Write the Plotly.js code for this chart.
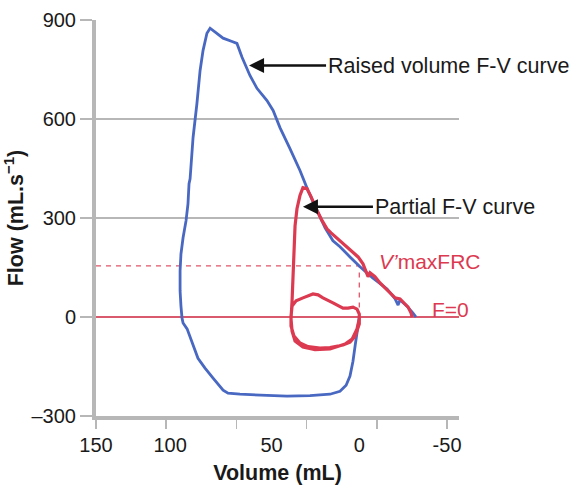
<!DOCTYPE html>
<html><head><meta charset="utf-8">
<script src="https://cdn.plot.ly/plotly-3.0.1.min.js"></script>
<style>html,body{margin:0;padding:0;background:#fff}#chart{width:569px;height:485px}</style>
</head><body><div id="chart"></div>
<script>
// Raised volume F-V curve (blue)
const raisedVolume = [0, 1.3, 2.4, 3.6, 5.3, 7.5, 11, 16.7, 28.1, 41.2, 56.6, 68, 74.8, 77.6, 83.3, 87.9, 91.9, 94.7, 98.1, 100.4, 101,
  101.6, 102.1, 102.1, 101.6, 100.4, 98.7, 97.6, 97.0, 96.4, 94.7, 92.5, 90.7, 89.0, 86.8, 85.0, 82.2, 77.6, 72.5, 69.7, 66.8, 62.3, 58.3,
  52.6, 49.1, 45.2, 39.5, 33.8, 29.2, 24.1, 19.5, 15.0, 11.0, 5.3, -0.4, -7.8, -15.8, -20.4, -22.1, -23.2, -27.2, -30.6, -32.3];
const raisedFlow = [0, -42, -88, -134, -179, -207, -225, -234, -238, -240, -237, -234, -231, -222, -185, -155, -125, -82, -36, -18, -3,
  33, 79, 140, 191, 240, 292, 343, 404, 419, 544, 647, 747, 808, 860, 875, 863, 845, 835, 829, 787, 732, 693,
  656, 626, 574, 510, 444, 383, 322, 270, 231, 213, 182, 152, 118, 85, 55, 36, 52, 33, 12, 0];

// Tidal breaths and partial F-V curve (red)
const partialVolume = [0, 0, 2.4, 5.3, 9.3, 16.7, 22.4, 29.2, 33.8, 37.2, 38.9, 38.9, 38.3,
  36.0, 32.1, 26.4, 23.5, 20.7, 15.0, 9.3, 6.4, 3.6, 1.3, 0, 0,
  1.3, 4.1, 8.1, 16.7, 25.2, 32.1, 36.6, 38.3, 38.9, 38.3, 37.7, 37.2, 36.6, 35.5, 33.8, 32.1,
  29.8, 27.5, 24.6, 21.2, 18.4, 16.1, 11.0, 5.3, 0.7, -2.1, -3.8, -5.0, -6.1, -8.9, -11.8, -16.4,
  -20.4, -23.2, -25.5, -27.8, -29.5, -30.1];
const partialFlow = [0, -21, -58, -76, -85, -93, -94, -90, -79, -58, -27, 3, 33,
  49, 58, 70, 67, 58, 43, 27, 27, 30, 24, 9, -6,
  -36, -67, -82, -97, -99, -91, -73, -43, -6, 49, 140, 216, 276, 328, 368, 392,
  389, 365, 328, 292, 267, 255, 231, 204, 182, 161, 134, 122, 134, 122, 103, 79,
  58, 55, 43, 30, 12, 0];

const xRange = [150, -56.8];
const xTickMarks = [150, 110, 70, 30, -10, -50];
const xLabelValues = [150, 107.8, 50, 0, -50];
const xLabelText = ["150", "100", "50", "0", "-50"];
const yTickValues = [-300, 0, 300, 600, 900];
const yTickText = ["\u2013300", "0", "300", "600", "900"];
const zeroFlow = 0;
const vmaxFRCFlow = 155;
const vmaxFRCVolume = 0;

const gray = '#b7b7b7';
const blue = '#4868c2';
const red = '#dc3a50';
const font = 'Liberation Sans, Arial, Helvetica, sans-serif';

const traces = [
  {x: xRange, y: [zeroFlow, zeroFlow], mode: 'lines', line: {color: '#d85a6c', width: 2}, hoverinfo: 'skip', showlegend: false, cliponaxis: false},
  {x: [150, vmaxFRCVolume, vmaxFRCVolume], y: [vmaxFRCFlow, vmaxFRCFlow, zeroFlow], mode: 'lines', line: {color: '#e0566a', width: 1.3, dash: '5px,5px'}, hoverinfo: 'skip', showlegend: false},
  {x: raisedVolume, y: raisedFlow, mode: 'lines', line: {color: blue, width: 2.8}, hoverinfo: 'skip', showlegend: false},
  {x: partialVolume, y: partialFlow, mode: 'lines', line: {color: red, width: 3.2}, hoverinfo: 'skip', showlegend: false},
  {x: xRange, y: [null, null], xaxis: 'x2', mode: 'lines', hoverinfo: 'skip', showlegend: false}
];

const layout = {
  width: 569, height: 485,
  margin: {l: 96, r: 110, t: 20, b: 69},
  paper_bgcolor: '#fff', plot_bgcolor: '#fff',
  font: {family: font, size: 20, color: '#1a1a1a'},
  showlegend: false,
  xaxis: {
    range: xRange, tickmode: 'array', tickvals: xLabelValues, ticktext: xLabelText,
    ticks: 'outside', ticklen: 8, tickcolor: 'rgba(0,0,0,0)',
    showline: true, linewidth: 4, linecolor: gray, showgrid: false, zeroline: false,
    tickfont: {size: 20, color: '#1a1a1a'},
    title: {text: '<b>Volume (mL)</b>', font: {size: 21.5, color: '#1a1a1a'}, standoff: 15}
  },
  xaxis2: {
    overlaying: 'x', anchor: 'y', side: 'bottom', range: xRange,
    tickmode: 'array', tickvals: xTickMarks, showticklabels: false,
    ticks: 'outside', ticklen: 12, tickwidth: 1.5, tickcolor: gray,
    showline: false, showgrid: false, zeroline: false
  },
  yaxis: {
    range: [-300, 900], tickmode: 'array', tickvals: yTickValues, ticktext: yTickText,
    ticks: 'outside', ticklen: 12, tickwidth: 1.5, tickcolor: gray,
    showline: true, linewidth: 4, linecolor: gray,
    showgrid: true, gridcolor: gray, gridwidth: 1.5, zeroline: false,
    tickfont: {size: 20, color: '#1a1a1a'},
    title: {text: '<b>Flow (mL.s<sup>\u22121</sup>)</b>', font: {size: 21.5, color: '#1a1a1a'}, standoff: 3}
  },
  annotations: [
    {x: 62.8, y: 762, xref: 'x', yref: 'y', text: 'Raised volume F-V curve', showarrow: true, ax: 77, ay: 0, xanchor: 'left',
      arrowhead: 2, arrowsize: 1.2, arrowwidth: 2.5, arrowcolor: '#111', font: {size: 21.5, color: '#1a1a1a'}},
    {x: 32.1, y: 334, xref: 'x', yref: 'y', text: 'Partial F-V curve', showarrow: true, ax: 70, ay: 0, xanchor: 'left',
      arrowhead: 2, arrowsize: 1.2, arrowwidth: 2.5, arrowcolor: '#111', font: {size: 21.5, color: '#1a1a1a'}},
    {x: -40.3, y: 167, xref: 'x', yref: 'y', text: '<i>V\u2019</i>maxFRC', showarrow: false, font: {size: 21, color: red}},
    {x: -51.7, y: 24, xref: 'x', yref: 'y', text: 'F=0', showarrow: false, font: {size: 21, color: red}}
  ]
};

Plotly.newPlot('chart', traces, layout, {staticPlot: true, displayModeBar: false});
</script>
</body></html>
